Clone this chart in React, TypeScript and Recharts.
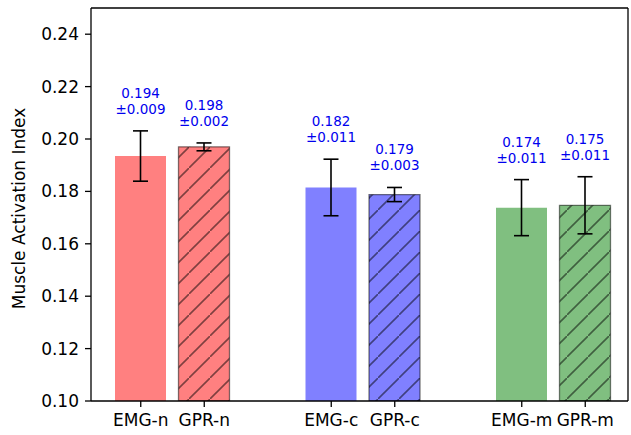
import React from "react"
import { BarChart, Bar, XAxis, YAxis, ErrorBar, Cell, LabelList } from "recharts"

// slot order on the x axis, "" = empty gap between groups
const categories = ["EMG-n", "GPR-n", "", "EMG-c", "GPR-c", "", "EMG-m", "GPR-m"]
const means = [0.1935, 0.197, null, 0.1815, 0.1788, null, 0.1738, 0.1747]
const errors = [0.0096, 0.0015, null, 0.0108, 0.0027, null, 0.0107, 0.0109]
const meanLabels = ["0.194", "0.198", "", "0.182", "0.179", "", "0.174", "0.175"]
const errLabels = ["±0.009", "±0.002", "", "±0.011", "±0.003", "", "±0.011", "±0.011"]
const colorKeys = ["red", "red", "", "blue", "blue", "", "green", "green"]
const hatched = [false, true, false, false, true, false, false, true]
const yTicks = [0.1, 0.12, 0.14, 0.16, 0.18, 0.2, 0.22, 0.24]

const fills: Record<string, string> = { red: "#ff8080", blue: "#8080ff", green: "#80bf80" }
const FONT = "'DejaVu Sans', sans-serif"

const data = categories.map((name, i) => ({
  name,
  value: means[i],
  err: errors[i],
  meanLabel: meanLabels[i],
  errLabel: errLabels[i],
  color: colorKeys[i],
  hatched: hatched[i],
}))

const XTick = (props: any) => {
  const { x, y, payload } = props
  if (!payload.value) return null
  // y is axis + tickSize + tickMargin
  return (
    <g>
      <line x1={x} x2={x} y1={y - 13} y2={y - 7} stroke="#000" strokeWidth={1.3} />
      <text x={x} y={y} dy="0.71em" textAnchor="middle" fontSize={17} fontFamily={FONT} fill="#000">
        {payload.value}
      </text>
    </g>
  )
}

const ValueLabel = (props: any) => {
  const { x, y, width, height, value } = props
  const d = data.find((e) => e.name === value)
  if (!d || d.value == null) return null
  const pxPerUnit = height / (d.value - 0.1)
  const errTop = y - (d.err ?? 0) * pxPerUnit
  const cx = x + width / 2
  return (
    <g fontFamily={FONT} fontSize={13.5} fill="#0000ee" textAnchor="middle">
      <text x={cx} y={errTop - 33}>{d.meanLabel}</text>
      <text x={cx} y={errTop - 17}>{d.errLabel}</text>
    </g>
  )
}

export default function App() {
  return (
    <div style={{ position: "absolute", left: 0, top: 0, width: 631, height: 435, background: "#fff" }}>
      <svg width={0} height={0} style={{ position: "absolute" }}>
        <defs>
          {Object.keys(fills).map((k) => (
            <pattern key={k} id={`hatch-${k}`} patternUnits="userSpaceOnUse" width={21} height={21}>
              <rect width={21} height={21} fill={fills[k]} />
              <line x1={-2} y1={23} x2={23} y2={-2} stroke="rgba(0,0,0,0.5)" strokeWidth={1.6} />
            </pattern>
          ))}
        </defs>
      </svg>
      <BarChart
        width={631}
        height={435}
        data={data}
        margin={{ top: 7, right: 2, left: 0, bottom: 0 }}
        barSize={51}
      >
        <XAxis
          dataKey="name"
          height={34}
          padding={{ left: 18, right: 11 }}
          tickLine={false}
          tickSize={6}
          tickMargin={7}
          tick={<XTick />}
          interval={0}
          axisLine={{ stroke: "#000", strokeWidth: 1.3 }}
        />
        <XAxis
          xAxisId="top"
          orientation="top"
          dataKey="name"
          height={1}
          tick={false}
          tickLine={false}
          axisLine={{ stroke: "#000", strokeWidth: 1.3 }}
        />
        <YAxis
          type="number"
          domain={[0.1, 0.25]}
          ticks={yTicks}
          allowDataOverflow
          width={91}
          tickSize={6}
          tickMargin={6}
          tickFormatter={(v: number) => v.toFixed(2)}
          tick={{ fontSize: 17, fontFamily: FONT, fill: "#000" }}
          tickLine={{ stroke: "#000", strokeWidth: 1.3 }}
          axisLine={{ stroke: "#000", strokeWidth: 1.3 }}
          label={{
            content: (p: any) => {
              const vb = p.viewBox
              const cy = vb.y + vb.height / 2 + 4
              return (
                <text x={25} y={cy} transform={`rotate(-90, 25, ${cy})`} textAnchor="middle" fontSize={17} fontFamily={FONT} fill="#000">
                  Muscle Activation Index
                </text>
              )
            },
          }}
        />
        <YAxis
          yAxisId="right"
          orientation="right"
          type="number"
          domain={[0.1, 0.25]}
          width={1}
          tick={false}
          tickLine={false}
          axisLine={{ stroke: "#000", strokeWidth: 1.3 }}
        />
        <Bar dataKey="value" isAnimationActive={false}>
          {data.map((d, i) => (
            <Cell
              key={i}
              fill={d.hatched ? `url(#hatch-${d.color})` : fills[d.color] || "none"}
              stroke={d.hatched ? "rgba(0,0,0,0.5)" : "none"}
              strokeWidth={d.hatched ? 1.3 : 0}
            />
          ))}
          <ErrorBar dataKey="err" width={7.5} stroke="#000" strokeWidth={1.6} direction="y" />
          <LabelList dataKey="name" content={<ValueLabel />} />
        </Bar>
      </BarChart>
    </div>
  )
}
